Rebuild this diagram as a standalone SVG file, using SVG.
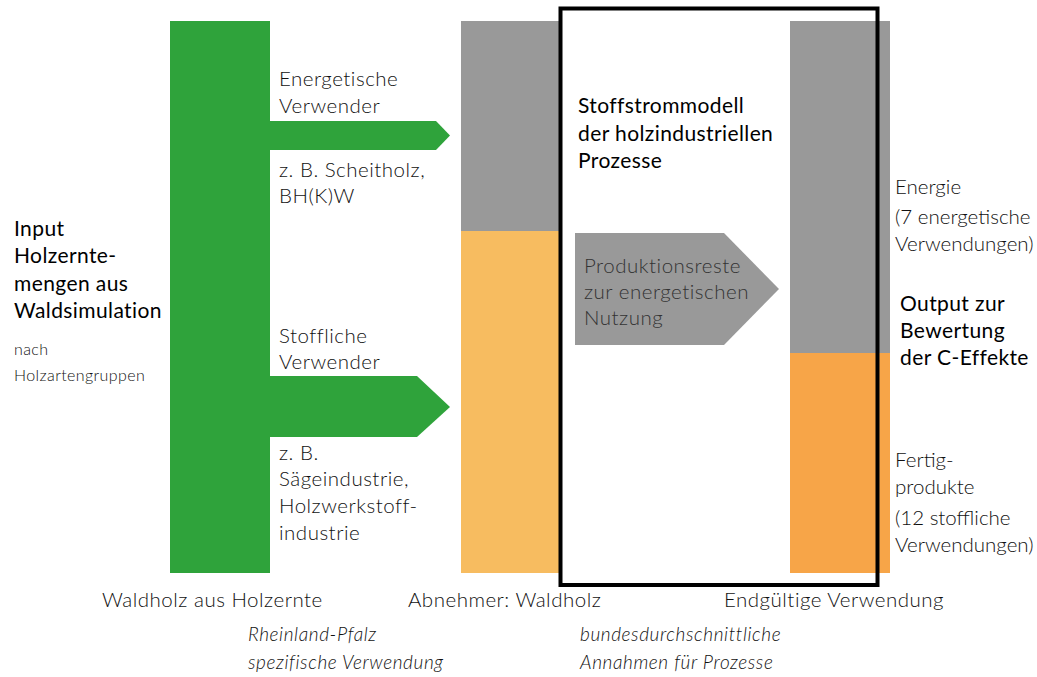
<svg xmlns="http://www.w3.org/2000/svg" width="1037" height="677" viewBox="0 0 1037 677">
<style>
.g{fill:#2fa33b}
.gr{fill:#999999}
.o1{fill:#f7bc60}
.o2{fill:#f7a548}
.t{font-family:Lato,"Open Sans","DejaVu Sans",sans-serif;font-weight:300;font-size:20.5px;letter-spacing:0.5px;fill:#111}
.b{font-family:Lato,"Open Sans","DejaVu Sans",sans-serif;font-weight:400;font-size:21px;letter-spacing:0.4px;fill:#000}
.s{font-size:16px;letter-spacing:0.4px}
.i{font-style:italic;font-size:19px;letter-spacing:0.6px}
.d{fill:#333}
.r{letter-spacing:0px}
</style>
<rect width="1037" height="677" fill="#fff"/>
<g id="waldholz">
<rect class="g" x="170" y="21" width="100" height="552"/>
</g>
<g id="connectors">
<polygon class="g" points="269,121 436,121 450,135.5 436,150 269,150"/>
<polygon class="g" points="269,376 417,376 450,407 417,437 269,437"/>
</g>
<g id="abnehmer">
<rect class="gr" x="461" y="21" width="98" height="210"/>
<rect class="o1" x="461" y="231" width="98" height="342"/>
</g>
<g id="verwendung">
<rect class="gr" x="790" y="21" width="100" height="332"/>
<rect class="o2" x="790" y="353" width="100" height="220"/>
</g>
<g id="stoffstrommodell">
<rect x="560.5" y="8.5" width="317" height="576.5" fill="none" stroke="#000" stroke-width="4"/>
<text class="b" x="578" y="113">Stoffstrommodell</text>
<text class="b" x="578" y="141">der holzindustriellen</text>
<text class="b" x="578" y="168">Prozesse</text>
</g>
<g id="produktionsreste">
<polygon class="gr" points="575,233 724,233 779,289 724,345 575,345"/>
<text class="t d" x="584" y="273">Produktionsreste</text>
<text class="t d" x="584" y="299">zur energetischen</text>
<text class="t d" x="584" y="325">Nutzung</text>
</g>
<g id="input">
<text class="b" x="14" y="236">Input</text>
<text class="b" x="14" y="263">Holzernte-</text>
<text class="b" x="14" y="291">mengen aus</text>
<text class="b" x="14" y="318">Waldsimulation</text>
<text class="t s" x="14" y="355">nach</text>
<text class="t s" x="14" y="381">Holzartengruppen</text>
</g>
<g id="energetische-verwender">
<text class="t" x="279" y="86">Energetische</text>
<text class="t" x="279" y="113">Verwender</text>
<text class="t" x="279" y="177">z. B. Scheitholz,</text>
<text class="t" x="279" y="203">BH(K)W</text>
</g>
<g id="stoffliche-verwender">
<text class="t" x="279" y="343">Stoffliche</text>
<text class="t" x="279" y="369">Verwender</text>
<text class="t" x="279" y="460">z. B.</text>
<text class="t" x="279" y="486">Sägeindustrie,</text>
<text class="t" x="279" y="513">Holzwerkstoff-</text>
<text class="t" x="279" y="540">industrie</text>
</g>
<g id="energie">
<text class="t r" x="895" y="194">Energie</text>
<text class="t r" x="895" y="224">(7 energetische</text>
<text class="t r" x="895" y="251">Verwendungen)</text>
</g>
<g id="output">
<text class="b" x="900" y="311">Output zur</text>
<text class="b" x="900" y="338">Bewertung</text>
<text class="b" x="900" y="365">der C-Effekte</text>
</g>
<g id="fertigprodukte">
<text class="t r" x="895" y="467">Fertig-</text>
<text class="t r" x="895" y="494">produkte</text>
<text class="t r" x="895" y="525">(12 stoffliche</text>
<text class="t r" x="895" y="552">Verwendungen)</text>
</g>
<g id="labels">
<text class="t" x="102" y="607">Waldholz aus Holzernte</text>
<text class="t" x="408" y="607">Abnehmer: Waldholz</text>
<text class="t" x="724" y="607">Endgültige Verwendung</text>
<text class="t i" x="248" y="641">Rheinland-Pfalz</text>
<text class="t i" x="248" y="669">spezifische Verwendung</text>
<text class="t i" x="580" y="641">bundesdurchschnittliche</text>
<text class="t i" x="580" y="669">Annahmen für Prozesse</text>
</g>
</svg>
